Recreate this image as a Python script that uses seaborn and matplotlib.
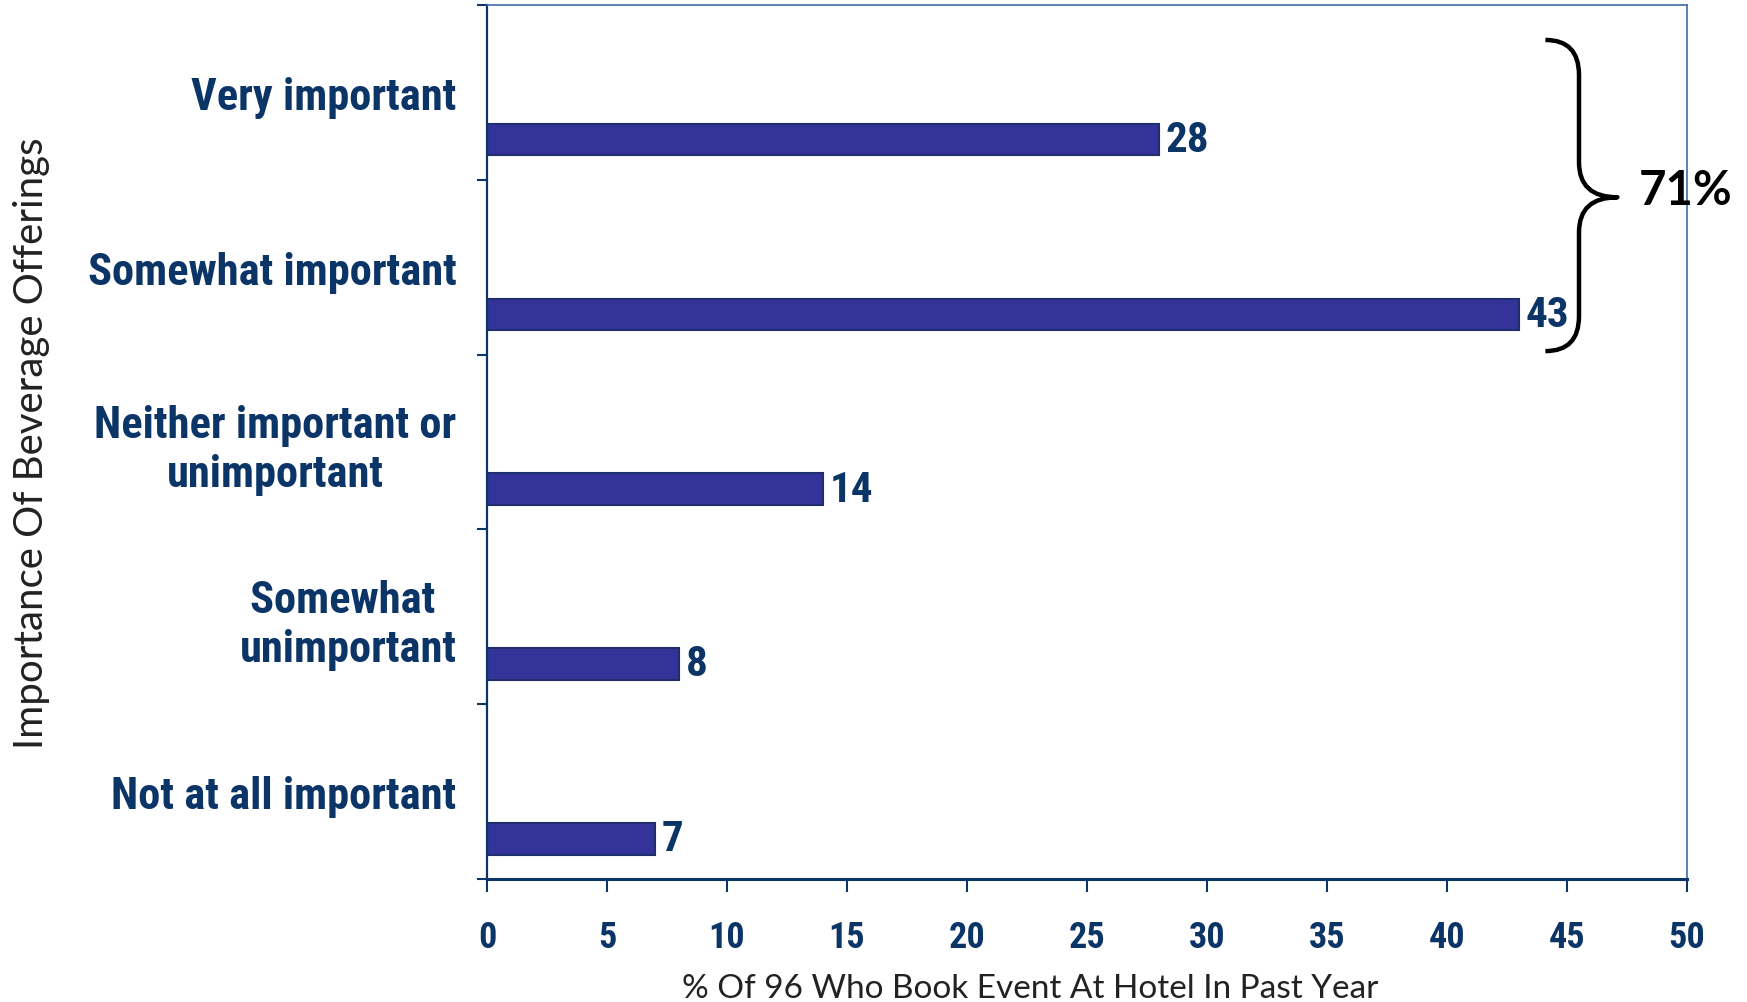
import numpy as np
import pandas as pd
import matplotlib
matplotlib.use("Agg")
import matplotlib.pyplot as plt
import seaborn as sns
from matplotlib import font_manager
from matplotlib.path import Path
from matplotlib.patches import PathPatch

# ---- data ----
categories = [
    "Very important",
    "Somewhat important",
    "Neither important or\nunimportant",
    "Somewhat \nunimportant",
    "Not at all important",
]
percentages = [28, 43, 14, 8, 7]
x_ticks = [0, 5, 10, 15, 20, 25, 30, 35, 40, 45, 50]
bracket_total = "71%"
x_label = "% Of 96 Who Book Event At Hotel In Past Year"
y_label = "Importance Of Beverage Offerings"

# ---- style ----
NAVY = "#0B3467"
BAR = "#333399"
BAR_EDGE = "#1E2E6E"
FRAME_LIGHT = "#3F6EA3"

sns.set_theme(style="white")
available = {f.name for f in font_manager.fontManager.ttflist}


def pick(*names):
    return next((n for n in names if n in available), "DejaVu Sans")


narrow = pick("Liberation Sans Narrow", "Roboto Condensed", "DejaVu Sans Condensed", "DejaVu Sans")
plain = pick("Lato", "Open Sans", "DejaVu Sans")
plt.rcParams["font.family"] = [narrow, "DejaVu Sans"]

fig, ax = plt.subplots(figsize=(17.47, 10.03), dpi=100)
fig.subplots_adjust(left=487 / 1747, right=1687 / 1747, top=1 - 6 / 1003, bottom=1 - 880 / 1003)

df = pd.DataFrame({"category": categories, "pct": percentages})
sns.barplot(
    data=df, x="pct", y="category", orient="h", order=categories,
    color=BAR, saturation=1, width=0.18, edgecolor=BAR_EDGE, linewidth=1.5, ax=ax,
)

# bars sit in the lower part of each band, category label above
bar_shift = 0.27
for patch in ax.patches:
    patch.set_y(patch.get_y() + bar_shift)

for i, v in enumerate(percentages):
    ax.annotate(
        f"{v}", xy=(v, i + bar_shift), xytext=(5, 0), textcoords="offset points",
        ha="left", va="center", fontsize=31, fontweight="bold", color=NAVY,
    )

ax.set_xlim(0, 50)
ax.set_ylim(len(categories) - 0.5, -0.5)

# x axis
ax.set_xticks(x_ticks)
ax.set_xticklabels([str(t) for t in x_ticks], fontsize=26, fontweight="bold", color=NAVY)
ax.tick_params(axis="x", which="major", bottom=True, length=9, width=1.5,
               color=NAVY, direction="out", pad=20)

# y axis: tick marks between bands, labels at band centres
ax.set_yticks(np.arange(-0.5, len(categories), 1.0))
ax.set_yticklabels([""] * (len(categories) + 1))
ax.set_yticks(np.arange(len(categories)), minor=True)
ax.set_yticklabels(categories, minor=True, fontsize=32, fontweight="bold",
                   color=NAVY, multialignment="center", linespacing=1.2)
ax.tick_params(axis="y", which="major", left=True, length=7, width=1.5,
               color=NAVY, direction="out")
ax.tick_params(axis="y", which="minor", left=True, length=0, pad=22)

ax.set_xlabel(x_label, fontsize=24, color="#222222", family=[plain, "DejaVu Sans"])
ax.xaxis.set_label_coords(0.453, -0.107)
ax.set_ylabel(y_label, fontsize=29, color="#222222", family=[plain, "DejaVu Sans"])
ax.yaxis.set_label_coords(-0.364, 0.5)

for side in ("left", "bottom"):
    ax.spines[side].set_color(NAVY)
ax.spines["left"].set_linewidth(1.6)
ax.spines["bottom"].set_linewidth(2.2)
for side in ("top", "right"):
    ax.spines[side].set_color(FRAME_LIGHT)
    ax.spines[side].set_linewidth(1.2)

# curly brace grouping the two "important" answers
xb0, xb1, xtip = 44.1, 45.5, 47.1
ytop, ymid, ybot = -0.30, 0.60, 1.48
rv = 0.20
verts = [
    (xb0, ytop),
    (xb1, ytop), (xb1, ytop + rv),
    (xb1, ymid - rv),
    (xb1, ymid), (xtip, ymid),
    (xb1, ymid), (xb1, ymid + rv),
    (xb1, ybot - rv),
    (xb1, ybot), (xb0, ybot),
]
codes = [
    Path.MOVETO,
    Path.CURVE3, Path.CURVE3,
    Path.LINETO,
    Path.CURVE3, Path.CURVE3,
    Path.CURVE3, Path.CURVE3,
    Path.LINETO,
    Path.CURVE3, Path.CURVE3,
]
ax.add_patch(PathPatch(Path(verts, codes), facecolor="none", edgecolor="black",
                       linewidth=3.2, capstyle="butt", joinstyle="round", clip_on=False))
ax.text(48.0, 0.56, bracket_total, ha="left", va="center", fontsize=34,
        fontweight="bold", color="black", family=[plain, "DejaVu Sans"], clip_on=False)

fig.savefig("out.png", dpi=100)
